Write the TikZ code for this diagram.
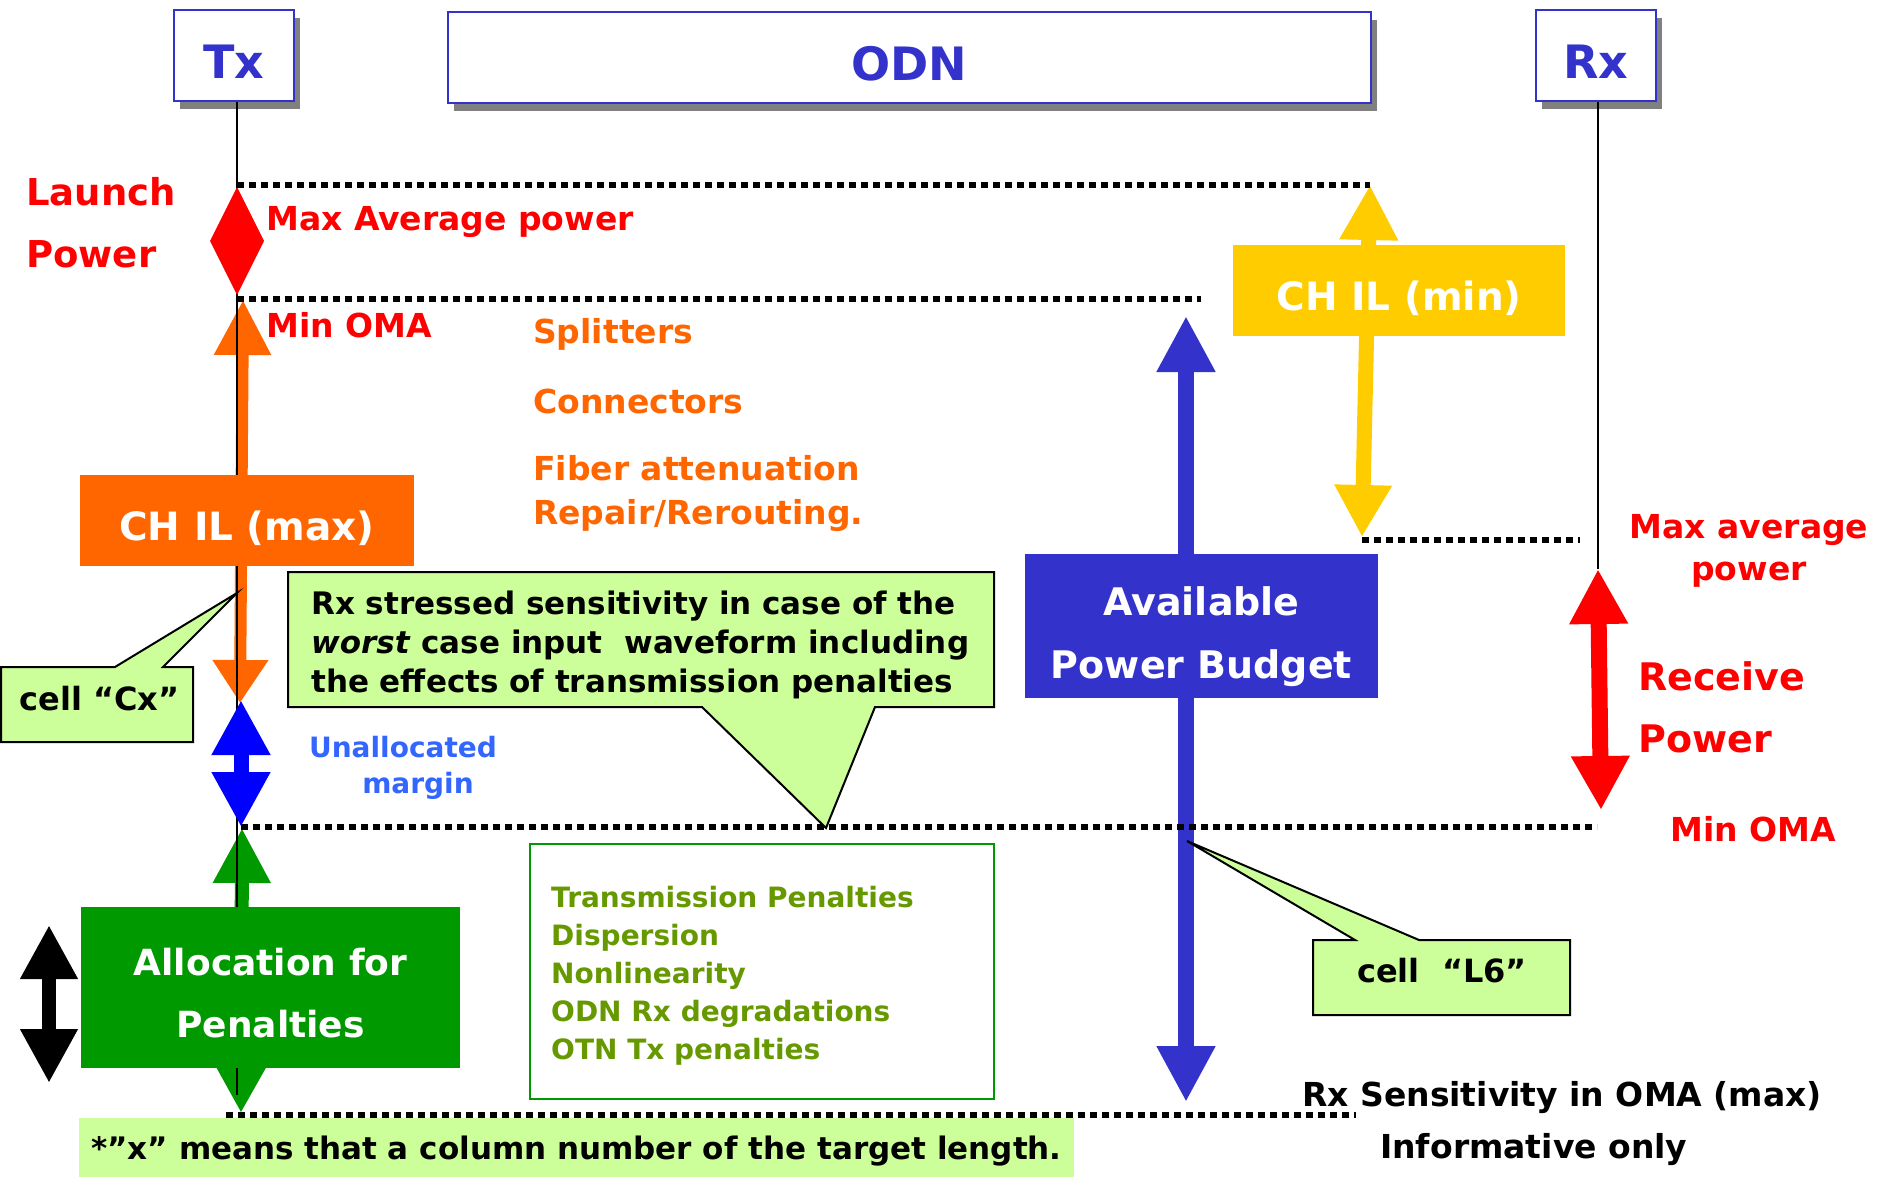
\documentclass[tikz,border=0pt]{standalone}
\usepackage{fontspec}
\setmainfont{DejaVu Sans}
\usetikzlibrary{arrows.meta,shadows}

\definecolor{tblue}{HTML}{3333CC}
\definecolor{pred}{HTML}{FF0000}
\definecolor{porange}{HTML}{FF6600}
\definecolor{pyellow}{HTML}{FFCC00}
\definecolor{pblue}{HTML}{0000FF}
\definecolor{ublue}{HTML}{3366FF}
\definecolor{pgreen}{HTML}{009900}
\definecolor{polive}{HTML}{669900}
\definecolor{lgreen}{HTML}{CCFF99}
\definecolor{shade}{HTML}{808080}

\newcommand{\setpt}[2]{\fontsize{#1}{#2}\selectfont}

\begin{document}
\begin{tikzpicture}[x=1pt,y=-1pt,
  titlebox/.style={draw=tblue, line width=2pt, fill=white, text=tblue, inner sep=0pt,
    font=\bfseries\setpt{46}{46}, text height=45pt, text depth=0pt,
    drop shadow={shadow xshift=6pt,shadow yshift=-8pt,fill=shade,opacity=1}},
  dotline/.style={line width=5.5pt, dash pattern=on 6.5pt off 5.5pt},
  lbl/.style={inner sep=0pt, anchor=base west, font=\bfseries\setpt{33}{40}},
  block/.style={inner sep=0pt, text=white, font=\bfseries\setpt{39}{39}},
  callout/.style={fill=lgreen, draw=black, line width=2pt, line join=miter},
]
\fill[white] (0,0) rectangle (1877,1178);
\useasboundingbox (0,0) rectangle (1877,1178);

% ---- header boxes
\node[titlebox, minimum width=120pt, minimum height=91pt] (tx) at (234,55.5) {Tx};
\node[titlebox, minimum width=923pt, minimum height=91pt] (odn) at (909.5,57.5) {ODN};
\node[titlebox, minimum width=120pt, minimum height=91pt] (rx) at (1596,55.5) {Rx};

% ---- arrow end points
\coordinate (txfoot) at (237,1095);
\coordinate (rcvT) at (1598,569);
\coordinate (rcvB) at (1601,810);
\coordinate (ilmaxT) at (243,300);
\coordinate (ilmaxB) at (240,703);
\coordinate (penT) at (242,828);
\coordinate (penB) at (241,1113);
\coordinate (marT) at (241,700);
\coordinate (marB) at (241,827);
\coordinate (ilminT) at (1370,185);
\coordinate (ilminB) at (1362,537);
\coordinate (budT) at (1186,316);
\coordinate (budB) at (1186,1102);
\coordinate (sideT) at (49,925);
\coordinate (sideB) at (49,1083);

% ---- arrows behind the Tx line
\draw[porange, line width=12pt, {Triangle[width=54pt,length=55pt]}-{Triangle[width=53pt,length=43pt]}] (ilmaxT) -- (ilmaxB);
\draw[pgreen, line width=14pt, {Triangle[width=54pt,length=55pt]}-{Triangle[width=54pt,length=53pt]}] (penT) -- (penB);

% ---- Tx and Rx reference lines
\draw[line width=2.5pt] (tx.south -| txfoot) -- (txfoot);
\draw[line width=2.5pt] (rx.south -| rcvT) -- (rcvT);

% ---- launch power range
\fill[pred] (237,187) -- (264,241) -- (237,295) -- (210,241) -- cycle;

% ---- other ranges
\draw[pblue, line width=15pt, {Triangle[width=55pt,length=55pt]}-{Triangle[width=55pt,length=55pt]}] (marT) -- (marB);
\draw[pyellow, line width=15pt, {Triangle[width=55pt,length=55pt]}-{Triangle[width=54pt,length=52pt]}] (ilminT) -- (ilminB);
\draw[tblue, line width=16pt, {Triangle[width=55pt,length=56pt]}-{Triangle[width=55pt,length=56pt]}] (budT) -- (budB);
\draw[pred, line width=16pt, {Triangle[width=55pt,length=55pt]}-{Triangle[width=55pt,length=54pt]}] (rcvT) -- (rcvB);
\draw[black, line width=14pt, {Triangle[width=54pt,length=54pt]}-{Triangle[width=54pt,length=54pt]}] (sideT) -- (sideB);

% ---- coloured blocks
\node[block, fill=porange, minimum width=334pt, minimum height=91pt, text height=39pt, text depth=0pt] (ilmax) at (247,520.5) {CH IL (max)};
\node[block, fill=pyellow, minimum width=332pt, minimum height=91pt, text height=39pt, text depth=0pt] (ilmin) at (1399,290.5) {CH IL (min)};
\node[block, fill=tblue, minimum width=353pt, minimum height=144pt, align=center,
      font=\bfseries\setpt{38}{63}, text height=110pt, text depth=6pt] (budget) at (1201.5,626) {Available\\Power Budget};
\node[block, fill=pgreen, minimum width=379pt, minimum height=161pt, align=center,
      font=\bfseries\setpt{36}{62}, text height=105pt, text depth=6pt] (alloc) at (270.5,987.5) {Allocation for\\Penalties};

% ---- level lines
\draw[dotline] (237,185) -- (ilminT);
\draw[dotline] (237,299) -- (1201,299);
\draw[dotline] (ilminB |- 0,540) -- (1580,540);
\draw[dotline] (241,827) -- (1597,827);
\draw[dotline] (226,1115) -- (1356,1115);

% ---- penalties list
\node[draw=pgreen, line width=2pt, minimum width=464pt, minimum height=255pt, inner sep=0pt] (penbox) at (761.5,971) {};
\node[lbl, text=polive, align=left, font=\bfseries\setpt{28}{38}] (pentext) at (551,1059)
  {Transmission Penalties\\Dispersion\\Nonlinearity\\ODN Rx degradations\\OTN Tx penalties};

% ---- footnote
\node[fill=lgreen, minimum width=995pt, minimum height=59pt, inner sep=0pt,
      font=\bfseries\setpt{31}{31}, text height=23pt, text depth=0pt] (note) at (576.5,1147.5)
  {*”x” means that a column number of the target length.};

% ---- callouts
\draw[callout] (1,667) -- (115,667) -- (237,593) -- (163,667) -- (193,667) -- (193,742) -- (1,742) -- cycle;
\node[inner sep=0pt, anchor=base, font=\bfseries\setpt{32}{32}] (cx) at (99.5,710) {cell “Cx”};

\draw[callout] (288,572) -- (994,572) -- (994,707) -- (875,707) -- (826,828) -- (702,707) -- (288,707) -- cycle;
\node[lbl, align=left, font=\bfseries\setpt{31}{39}] (stress) at (311,692)
  {Rx stressed sensitivity in case of the\\\textit{worst} case input\ \ waveform including\\the effects of transmission penalties};

\draw[callout] (1313,940) -- (1355,940) -- (1187,841) -- (1419,940) -- (1570,940) -- (1570,1015) -- (1313,1015) -- cycle;
\node[inner sep=0pt, anchor=base, font=\bfseries\setpt{32}{32}] (l6) at (1442,982) {cell\ \ “L6”};

% ---- labels, Tx side
\node[lbl, text=pred, align=left, font=\bfseries\setpt{37}{62}] (launch) at (26,267) {Launch\\Power};
\node[lbl, text=pred] (maxavg) at (266,230) {Max Average power};
\node[lbl, text=pred] (minoma) at (266,337) {Min OMA};
\node[lbl, text=porange] (split) at (533,343) {Splitters};
\node[lbl, text=porange] (conn) at (533,413) {Connectors};
\node[lbl, text=porange, align=left, font=\bfseries\setpt{33}{44}] (fiber) at (533,524) {Fiber attenuation\\Repair/Rerouting.};
\node[inner sep=0pt, anchor=base, text=ublue, align=center, font=\bfseries\setpt{28}{36}] (unalloc) at (403,793) {Unallocated\\\hspace*{30pt}margin};

% ---- labels, Rx side
\node[inner sep=0pt, anchor=base, text=pred, align=center, font=\bfseries\setpt{33}{42}] (rxmax) at (1749,580) {Max average\\power};
\node[lbl, text=pred, align=left, font=\bfseries\setpt{38}{62}] (recv) at (1638,752) {Receive\\Power};
\node[lbl, text=pred] (rxmin) at (1670,841) {Min OMA};
\node[lbl] (rxsens) at (1302,1106) {Rx Sensitivity in OMA (max)};
\node[lbl] (inform) at (1380,1158) {Informative only};
\end{tikzpicture}
\end{document}
